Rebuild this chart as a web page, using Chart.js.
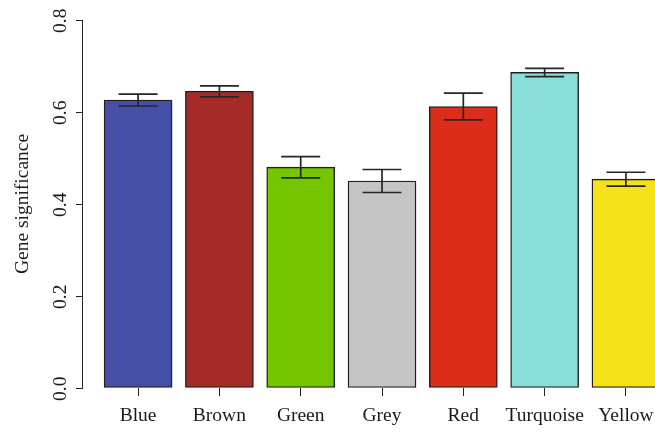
<!DOCTYPE html>
<html lang="en">
<head>
  <meta charset="UTF-8">
  <title>Gene significance by module</title>
  <style>
    html, body { margin: 0; padding: 0; background: #fff; overflow: hidden; }
    #wrap { width: 655px; height: 432px; }
    canvas { display: block; }
  </style>
</head>
<body>
  <div id="wrap"><canvas id="gsChart" width="655" height="432"></canvas></div>

  <script src="https://cdn.jsdelivr.net/npm/chart.js"></script>
  <script>
    const modules = ['Blue', 'Brown', 'Green', 'Grey', 'Red', 'Turquoise', 'Yellow'];
    const significance = [0.626, 0.645, 0.480, 0.450, 0.612, 0.686, 0.454];
    const stdErr = [0.013, 0.012, 0.023, 0.025, 0.029, 0.009, 0.015];
    const barColors = ['#464fa8', '#a52b28', '#75c500', '#c4c5c4', '#dc2d1b', '#8adfd9', '#f4e118'];
    const yTicks = [0, 0.2, 0.4, 0.6, 0.8];

    // barplot style layout: bar width 1, gap 0.2
    const slot = i => 0.7 + 1.2 * i;

    const serif = { family: '"Liberation Serif", "DejaVu Serif", serif', size: 19.5 };
    const ink = '#1a1a1a';

    const errorBars = {
      id: 'errorBars',
      afterDatasetsDraw(chart) {
        const meta = chart.getDatasetMeta(0);
        const y = chart.scales.y;
        const ctx = chart.ctx;
        ctx.save();
        ctx.strokeStyle = '#262626';
        ctx.lineWidth = 1.7;
        meta.data.forEach((bar, i) => {
          const hi = y.getPixelForValue(significance[i] + stdErr[i]);
          const lo = y.getPixelForValue(significance[i] - stdErr[i]);
          const x = bar.x;
          ctx.beginPath();
          ctx.moveTo(x, hi); ctx.lineTo(x, lo);
          ctx.moveTo(x - 19.5, hi); ctx.lineTo(x + 19.5, hi);
          ctx.moveTo(x - 19.5, lo); ctx.lineTo(x + 19.5, lo);
          ctx.stroke();
        });
        ctx.restore();
      }
    };

    new Chart(document.getElementById('gsChart'), {
      type: 'bar',
      data: {
        datasets: [{
          data: significance.map((v, i) => ({ x: slot(i), y: v })),
          backgroundColor: barColors,
          borderColor: '#1e1e1e',
          borderWidth: 1.4,
          borderSkipped: false,
          barThickness: 68
        }]
      },
      options: {
        responsive: false,
        animation: false,
        layout: { padding: { top: 20, right: 0, bottom: 0, left: 0 } },
        plugins: { legend: { display: false }, tooltip: { enabled: false } },
        scales: {
          x: {
            type: 'linear',
            min: -0.128,
            max: 8.329,
            offset: false,
            afterBuildTicks: s => { s.ticks = modules.map((m, i) => ({ value: slot(i) })); },
            afterFit: s => { s.height = 44; s.paddingRight = 0; s.paddingLeft = 0; },
            grid: { offset: false, drawOnChartArea: false, tickLength: 8, color: '#222' },
            border: { display: false },
            ticks: {
              autoSkip: false, maxRotation: 0, padding: 8,
              color: ink, font: serif,
              callback: (v, i) => modules[i]
            }
          },
          y: {
            min: 0,
            max: 0.8,
            afterBuildTicks: s => { s.ticks = yTicks.map(v => ({ value: v })); },
            afterFit: s => { s.width = 82; s.paddingTop = 0; s.paddingBottom = 0; },
            grid: { drawOnChartArea: false, tickLength: 6, color: '#222' },
            border: { display: true, color: '#222', width: 1 },
            ticks: {
              minRotation: 90, maxRotation: 90, labelOffset: -11.5, padding: 15,
              color: ink, font: serif,
              callback: v => v.toFixed(1)
            },
            title: {
              display: true, text: 'Gene significance',
              color: ink, font: serif,
              padding: { top: 11, bottom: 0 }
            }
          }
        }
      },
      plugins: [errorBars]
    });
  </script>
</body>
</html>
